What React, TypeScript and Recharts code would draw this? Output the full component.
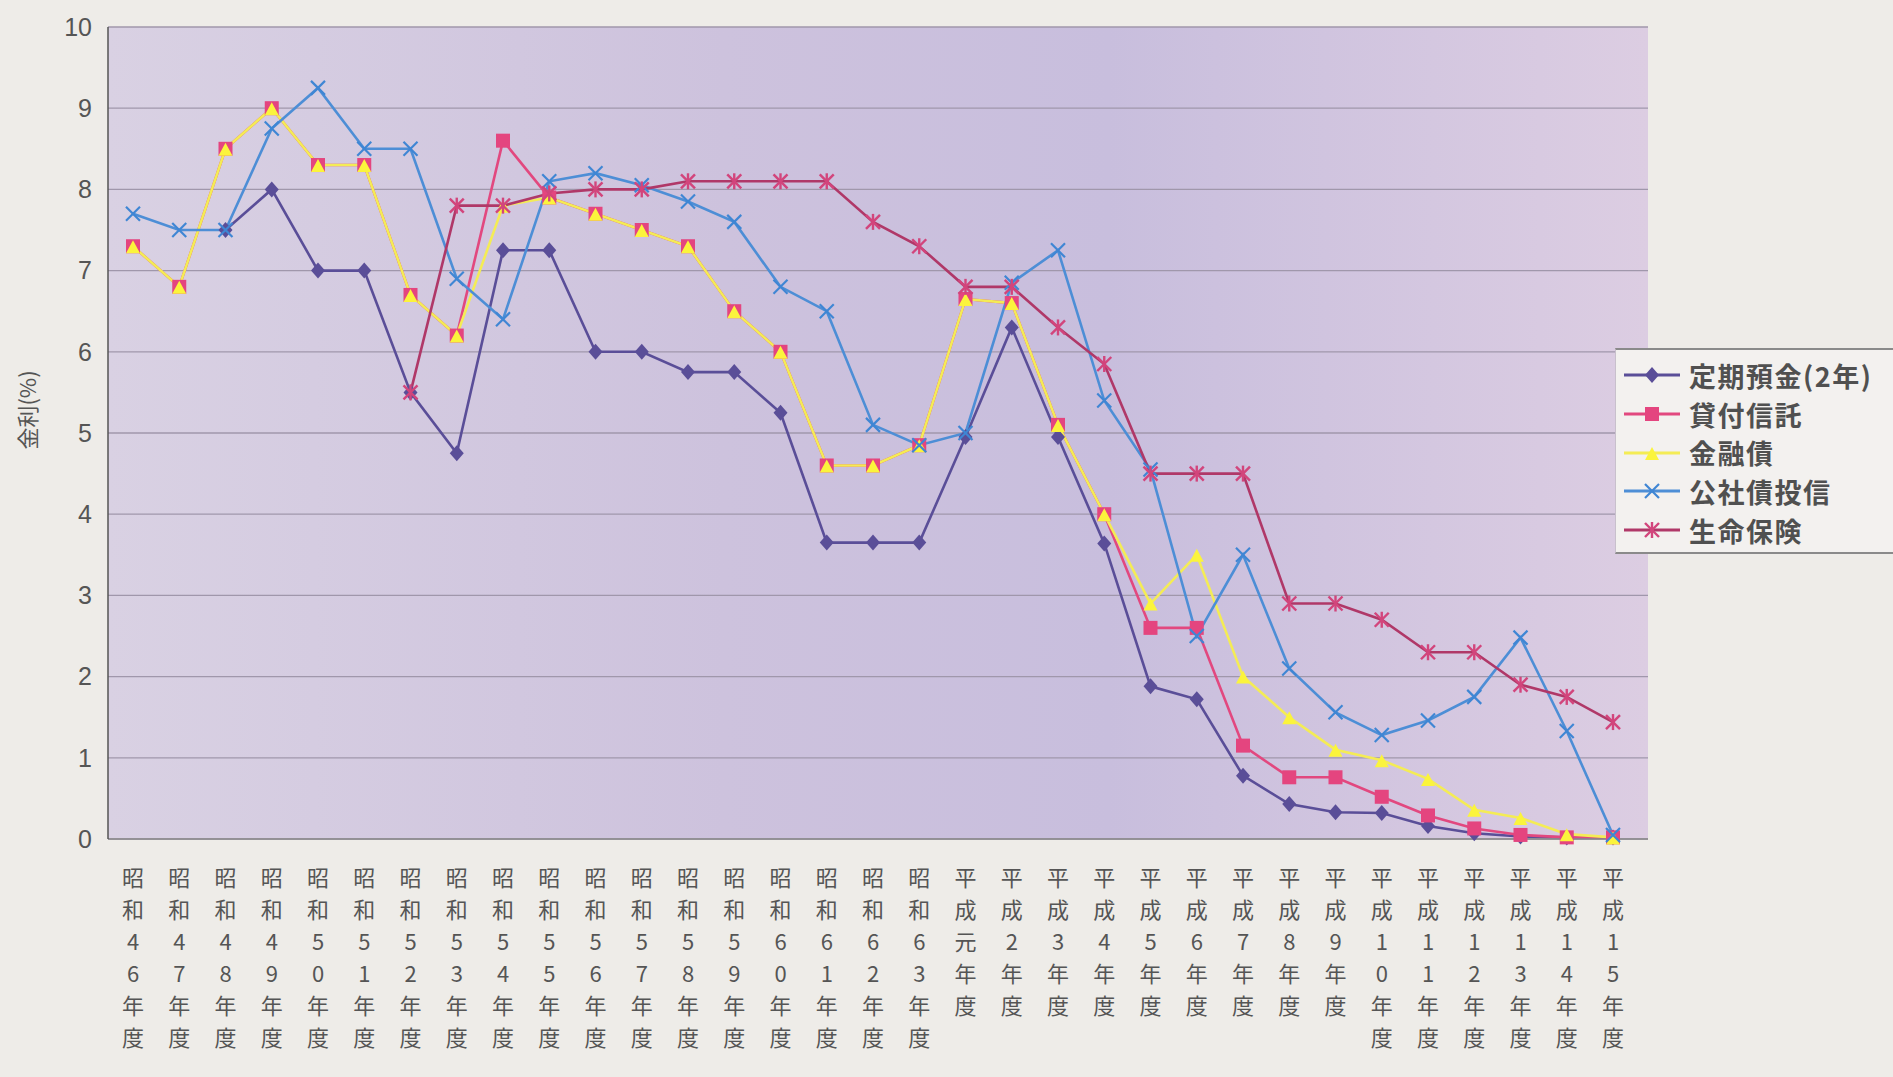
import React from 'react';
import { LineChart, Line, XAxis, YAxis, CartesianGrid, Legend } from 'recharts';

const categories = [
  '昭和46年度', '昭和47年度', '昭和48年度', '昭和49年度', '昭和50年度', '昭和51年度',
  '昭和52年度', '昭和53年度', '昭和54年度', '昭和55年度', '昭和56年度', '昭和57年度',
  '昭和58年度', '昭和59年度', '昭和60年度', '昭和61年度', '昭和62年度', '昭和63年度',
  '平成元年度', '平成2年度', '平成3年度', '平成4年度', '平成5年度', '平成6年度',
  '平成7年度', '平成8年度', '平成9年度', '平成10年度', '平成11年度', '平成12年度',
  '平成13年度', '平成14年度', '平成15年度',
];

const teikiYokin = [null, null, 7.5, 8.0, 7.0, 7.0, 5.5, 4.75, 7.25, 7.25, 6.0, 6.0, 5.75, 5.75, 5.25, 3.65, 3.65, 3.65, 4.95, 6.3, 4.95, 3.64, 1.88, 1.72, 0.78, 0.43, 0.33, 0.32, 0.16, 0.07, 0.03, 0.02, 0.02];
const kashitsukeShintaku = [7.3, 6.8, 8.5, 9.0, 8.3, 8.3, 6.7, 6.2, 8.6, 7.9, 7.7, 7.5, 7.3, 6.5, 6.0, 4.6, 4.6, 4.85, 6.65, 6.6, 5.1, 4.0, 2.6, 2.6, 1.15, 0.76, 0.76, 0.52, 0.29, 0.13, 0.05, 0.02, 0.02];
const kinyusai = [7.3, 6.8, 8.5, 9.0, 8.3, 8.3, 6.7, 6.2, 7.8, 7.9, 7.7, 7.5, 7.3, 6.5, 6.0, 4.6, 4.6, 4.85, 6.65, 6.6, 5.1, 4.0, 2.9, 3.5, 2.0, 1.5, 1.1, 0.97, 0.74, 0.36, 0.26, 0.06, 0.02];
const koshasaiToshin = [7.7, 7.5, 7.5, 8.75, 9.25, 8.5, 8.5, 6.9, 6.4, 8.1, 8.2, 8.05, 7.85, 7.6, 6.8, 6.5, 5.1, 4.85, 5.0, 6.85, 7.25, 5.4, 4.55, 2.5, 3.5, 2.1, 1.56, 1.28, 1.46, 1.75, 2.48, 1.33, 0.05];
const seimeiHoken = [null, null, null, null, null, null, 5.5, 7.8, 7.8, 7.95, 8.0, 8.0, 8.1, 8.1, 8.1, 8.1, 7.6, 7.3, 6.8, 6.8, 6.3, 5.85, 4.5, 4.5, 4.5, 2.9, 2.9, 2.7, 2.3, 2.3, 1.9, 1.75, 1.44];

const seriesNames = ['定期預金(2年)', '貸付信託', '金融債', '公社債投信', '生命保険'];
const yTicks = [0, 1, 2, 3, 4, 5, 6, 7, 8, 9, 10];
const yAxisTitle = '金利(%)';

const data = categories.map((c, i) => ({
  name: c,
  s0: teikiYokin[i],
  s1: kashitsukeShintaku[i],
  s2: kinyusai[i],
  s3: koshasaiToshin[i],
  s4: seimeiHoken[i],
}));

const CJK = '"Noto Sans CJK JP", "Noto Sans", sans-serif';
const NUM = '"Liberation Sans Narrow", "Liberation Sans", Arial, sans-serif';

const series = [
  { key: 's0', line: '#5a4e98', mark: '#5a4e98', shape: 'diamond' },
  { key: 's1', line: '#e2487f', mark: '#e4457f', shape: 'square' },
  { key: 's2', line: '#f4ec55', mark: '#fbf43c', shape: 'triangle' },
  { key: 's3', line: '#4d8ed6', mark: '#3f86d4', shape: 'x' },
  { key: 's4', line: '#b03868', mark: '#d2457c', shape: 'asterisk' },
];

function Marker({ cx, cy, shape, color }: any) {
  if (cx == null || cy == null || isNaN(cx) || isNaN(cy)) return <g />;
  switch (shape) {
    case 'diamond':
      return <polygon points={`${cx},${cy - 8} ${cx + 7},${cy} ${cx},${cy + 8} ${cx - 7},${cy}`} fill={color} />;
    case 'square':
      return <rect x={cx - 7} y={cy - 7} width={14} height={14} fill={color} />;
    case 'triangle':
      return <polygon points={`${cx},${cy - 6} ${cx + 7},${cy + 7} ${cx - 7},${cy + 7}`} fill={color} />;
    case 'x':
      return (
        <g stroke={color} strokeWidth={2.2}>
          <line x1={cx - 7} y1={cy - 7} x2={cx + 7} y2={cy + 7} />
          <line x1={cx - 7} y1={cy + 7} x2={cx + 7} y2={cy - 7} />
        </g>
      );
    default:
      return (
        <g stroke={color} strokeWidth={2.4}>
          <line x1={cx - 7} y1={cy - 7} x2={cx + 7} y2={cy + 7} />
          <line x1={cx - 7} y1={cy + 7} x2={cx + 7} y2={cy - 7} />
          <line x1={cx} y1={cy - 8} x2={cx} y2={cy + 8} />
        </g>
      );
  }
}

function XTick(props: any) {
  const { x, y, payload } = props;
  const chars = Array.from(String(payload.value));
  return (
    <text x={x} y={y} textAnchor="middle" fontSize={22} fill="#555" fontFamily={CJK}>
      {chars.map((c, i) => (
        <tspan key={i} x={x} y={y + 47 + i * 32}>{c}</tspan>
      ))}
    </text>
  );
}

function YTitle() {
  return (
    <text x={30} y={410} transform="rotate(-90 30 410)" textAnchor="middle" dominantBaseline="middle"
      fontSize={22} fill="#555" fontFamily={CJK}>
      {yAxisTitle}
    </text>
  );
}

function LegendContent() {
  return (
    <div style={{
      width: 278, height: 206, boxSizing: 'border-box', background: '#f3f1ef',
      borderTop: '2px solid #8a8a8a', borderBottom: '2px solid #8a8a8a',
      borderLeft: '1px solid #c8c0cc', paddingTop: 6,
    }}>
      {series.map((s, i) => (
        <div key={s.key} style={{ display: 'flex', alignItems: 'center', height: 38.7 }}>
          <svg width={68} height={30} style={{ marginLeft: 4, flexShrink: 0 }}>
            <line x1={4} y1={15} x2={60} y2={15} stroke={s.line} strokeWidth={3} />
            <Marker cx={32} cy={15} shape={s.shape} color={s.mark} />
          </svg>
          <span style={{ fontFamily: CJK, fontSize: 27, fontWeight: 700, color: '#505050', letterSpacing: 1.5, marginLeft: 1, whiteSpace: 'nowrap' }}>
            {seriesNames[i]}
          </span>
        </div>
      ))}
    </div>
  );
}

export default function App() {
  return (
    <div style={{ position: 'absolute', left: 0, top: 0, width: 1893, height: 1077, background: '#eeece8' }}>
      <LineChart width={1893} height={1077} data={data}
        margin={{ top: 27, right: 245, bottom: 18, left: 0 }}>
        <defs>
          <linearGradient id="plotBg" x1="0" y1="0" x2="1" y2="0">
            <stop offset="0" stopColor="#d9d1e3" />
            <stop offset="0.4" stopColor="#cdc2dd" />
            <stop offset="0.65" stopColor="#c8bedd" />
            <stop offset="1" stopColor="#dccde2" />
          </linearGradient>
        </defs>
        <CartesianGrid vertical={false} stroke="#a097ab" strokeWidth={1.3} fill="url(#plotBg)" fillOpacity={1} />
        <XAxis dataKey="name" interval={0} height={220} tick={<XTick />} tickLine={false} tickSize={0} tickMargin={0}
          axisLine={{ stroke: '#8a8a8a', strokeWidth: 1.5 }} padding={{ left: 25, right: 35 }} />
        <YAxis width={108} domain={[0, 10]} ticks={yTicks} interval={0} tickLine={false} tickSize={0} tickMargin={16}
          axisLine={{ stroke: '#555', strokeWidth: 1.5 }}
          tick={{ fontSize: 25, fill: '#555', fontFamily: NUM }} label={<YTitle />} />
        {series.map((s) => (
          <Line key={s.key} dataKey={s.key} name={seriesNames[series.indexOf(s)]} stroke={s.line} strokeWidth={2.6}
            isAnimationActive={false} activeDot={false}
            dot={(p: any) => <Marker key={`${s.key}-${p.index}`} cx={p.cx} cy={p.cy} shape={s.shape} color={s.mark} />} />
        ))}
        <Legend layout="horizontal" verticalAlign="middle" align="center" content={<LegendContent />}
          wrapperStyle={{ left: 1615, top: 348, width: 278, height: 206 }} />
      </LineChart>
    </div>
  );
}
